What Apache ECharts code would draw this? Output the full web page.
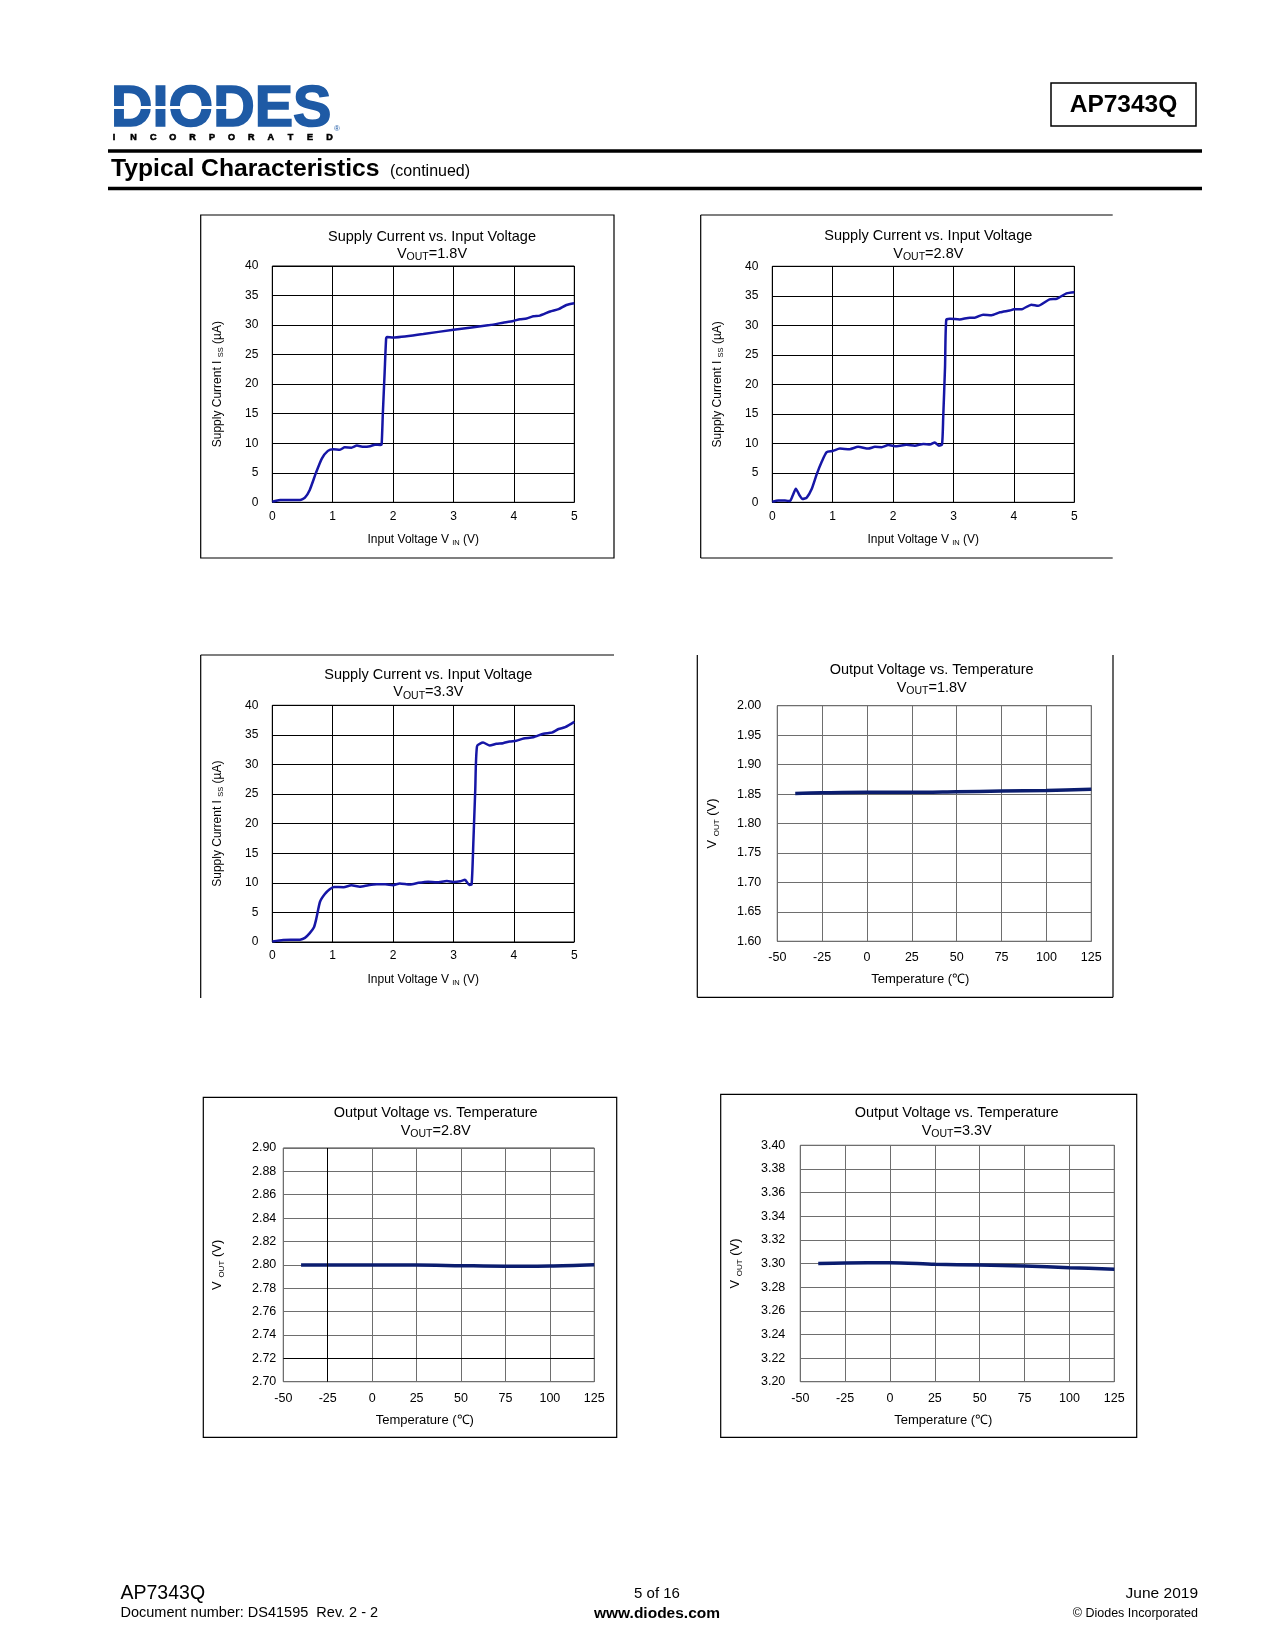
<!DOCTYPE html>
<html>
<head>
<meta charset="utf-8">
<script src="https://cdn.jsdelivr.net/npm/echarts@6/dist/echarts.min.js"></script>
<style>
html,body{margin:0;padding:0;background:#fff;}
#c{width:1275px;height:1650px;}
</style>
</head>
<body>
<div id="c"></div>
<script>
// ---------------- DATA ----------------
// Supply current vs input voltage, VOUT = 1.8V
const vin18 = [0,0.13,0.46,0.54,0.62,0.72,0.82,0.92,1.01,1.12,1.20,1.31,1.40,1.51,1.62,1.70,1.79,1.81,1.83,1.86,1.885,1.90,2.0,2.5,3.0,3.6,3.82,3.99,4.1,4.21,4.32,4.43,4.6,4.74,4.87,5.0];
const iss18 = [0.1,0.4,0.4,0.8,2.1,4.9,7.4,8.7,9.0,8.9,9.3,9.25,9.6,9.4,9.5,9.75,9.7,9.8,15,22,27.8,28.0,27.9,28.5,29.2,30.0,30.4,30.7,31.0,31.1,31.5,31.6,32.3,32.7,33.4,33.7];
// Supply current vs input voltage, VOUT = 2.8V
const vin28 = [0,0.1,0.21,0.29,0.34,0.39,0.45,0.50,0.57,0.65,0.73,0.82,0.90,1.0,1.12,1.28,1.42,1.59,1.70,1.81,1.92,2.06,2.22,2.36,2.50,2.61,2.69,2.76,2.81,2.83,2.86,2.88,2.94,3.1,3.27,3.35,3.49,3.63,3.77,3.93,4.0,4.12,4.29,4.4,4.59,4.71,4.87,5.0];
const iss28 = [0.1,0.3,0.3,0.2,1.2,2.3,1.2,0.55,0.8,2.2,4.6,6.9,8.5,8.7,9.1,9.0,9.4,9.1,9.4,9.35,9.7,9.5,9.75,9.6,9.9,9.8,10.15,9.6,9.8,14.5,23,30.9,31.1,31.0,31.3,31.3,31.8,31.7,32.2,32.5,32.7,32.7,33.5,33.3,34.4,34.5,35.4,35.6];
// Supply current vs input voltage, VOUT = 3.3V
const vin33 = [0,0.18,0.46,0.54,0.62,0.69,0.73,0.79,0.87,0.95,1.02,1.18,1.31,1.45,1.59,1.73,1.87,2.0,2.11,2.28,2.42,2.58,2.72,2.89,3.0,3.11,3.19,3.26,3.30,3.33,3.36,3.39,3.49,3.60,3.71,3.82,3.93,4.04,4.16,4.32,4.49,4.63,4.74,4.85,5.0];
const iss33 = [0.1,0.35,0.4,0.7,1.5,2.5,4.0,6.8,8.1,8.9,9.3,9.25,9.6,9.35,9.6,9.75,9.75,9.6,9.9,9.7,10.0,10.2,10.1,10.3,10.15,10.25,10.5,9.65,9.75,17.2,25.7,33.1,33.7,33.2,33.5,33.6,33.9,34.0,34.4,34.6,35.2,35.4,36.0,36.3,37.2];
// Output voltage vs temperature
const tempC  = [-40,-25,0,25,50,75,100,125];
const vout18 = [1.851,1.852,1.853,1.853,1.854,1.855,1.856,1.858];
const vout28 = [2.7998,2.7998,2.7999,2.7999,2.7993,2.7988,2.7990,2.8001];
const vout33 = [3.3001,3.3004,3.3007,3.2993,3.2987,3.2979,3.2965,3.2951];
// chart texts / tick settings
const curTitle = 'Supply Current vs. Input Voltage';
const tmpTitle = 'Output Voltage vs. Temperature';
const voutLabels = ['=1.8V','=2.8V','=3.3V','=1.8V','=2.8V','=3.3V'];
const vinTicks = {min:0, max:5, interval:1};
const issTicks = {min:0, max:40, interval:5};
const tempTicks = {min:-50, max:125, interval:25};
const vTicks18 = {min:1.60, max:2.00, interval:0.05};
const vTicks28 = {min:2.70, max:2.90, interval:0.02};
const vTicks33 = {min:3.20, max:3.40, interval:0.02};
const gridMarks28 = {x:-25, y:2.72};

// ---------------- STYLE / LAYOUT ----------------
const FONT = '"Liberation Sans", Arial, Helvetica, sans-serif';
const BLUE = '#1616a6';
const NAVY = '#0b1d6f';
const LOGO = '#1e5aa5';
const zip = (a, b) => a.map((x, i) => [x, b[i]]);

const grids = [
  {left:272.3, top:266,    width:302, height:236.3},
  {left:772.3, top:266.3,  width:302, height:236},
  {left:272.3, top:705.3,  width:302, height:236.7},
  {left:777.3, top:705.7,  width:314, height:235.6},
  {left:283.3, top:1148,   width:311, height:233.7},
  {left:800.3, top:1145.3, width:314, height:236.4}
].map((g, i) => Object.assign(g, {
  show:true, backgroundColor:'transparent', outerBoundsMode:'none', containLabel:false,
  borderColor: i < 3 ? '#000' : '#3a3a3a', borderWidth: 1
}));

function richName(main, sub, tail, fs, sfs, padding) {
  return {
    name: '{a|' + main + '}{s|' + sub + '}{a|' + tail + '}',
    nameTextStyle: {
      padding: padding || 0,
      rich: {
        a: {fontSize: fs, fontFamily: FONT, color: '#000', lineHeight: fs + 3},
        s: {fontSize: sfs, fontFamily: FONT, color: '#000', lineHeight: sfs, verticalAlign: 'bottom'}
      }
    }
  };
}

const xAxes = [], yAxes = [], series = [];
// current charts
[[vin18, iss18, 47], [vin28, iss28, 47], [vin33, iss33, 47]].forEach((d, i) => {
  xAxes.push(Object.assign({
    type:'value', gridIndex:i, min:vinTicks.min, max:vinTicks.max, interval:vinTicks.interval,
    axisLine:{show:false}, axisTick:{show:false},
    splitLine:{show:true, lineStyle:{color:'#000', width:1}},
    axisLabel:{color:'#000', fontSize:12, fontFamily:FONT, margin:8},
    nameLocation:'middle', nameGap:30
  }, richName('Input Voltage V ', 'IN', ' (V)', 12, 7.5)));
  yAxes.push(Object.assign({
    type:'value', gridIndex:i, min:issTicks.min, max:issTicks.max, interval:issTicks.interval,
    axisLine:{show:false}, axisTick:{show:false},
    splitLine:{show:true, lineStyle:{color:'#000', width:1}},
    axisLabel:{color:'#000', fontSize:12, fontFamily:FONT, margin:14},
    nameLocation:'middle', nameGap:d[2]
  }, richName('Supply Current I ', 'SS', ' (µA)', 12, 7.5)));
  series.push({
    type:'line', xAxisIndex:i, yAxisIndex:i, data:zip(d[0], d[1]),
    showSymbol:false, smooth:0.2, z:3,
    lineStyle:{color:BLUE, width:2.5}, itemStyle:{color:BLUE}
  });
});
// temperature charts
[[vout18, vTicks18, 16, 57], [vout28, vTicks28, 7, 58], [vout33, vTicks33, 15, 57]].forEach((d, k) => {
  const i = k + 3;
  xAxes.push({
    type:'value', gridIndex:i, min:tempTicks.min, max:tempTicks.max, interval:tempTicks.interval,
    axisLine:{show:false}, axisTick:{show:false},
    splitLine:{show:true, lineStyle:{color:'#6e6e6e', width:1}},
    axisLabel:{color:'#000', fontSize:12.5, fontFamily:FONT, margin:10},
    name:'Temperature (℃)', nameLocation:'middle', nameGap:32,
    nameTextStyle:{color:'#000', fontSize:13, fontFamily:FONT, padding:[0,28,0,0]}
  });
  yAxes.push(Object.assign({
    type:'value', gridIndex:i, min:d[1].min, max:d[1].max, interval:d[1].interval,
    axisLine:{show:false}, axisTick:{show:false},
    splitLine:{show:true, lineStyle:{color:'#6e6e6e', width:1}},
    axisLabel:{color:'#000', fontSize:12.5, fontFamily:FONT, margin:d[2], formatter: v => v.toFixed(2)},
    nameLocation:'middle', nameGap:d[3]
  }, richName('V ', 'OUT', ' (V)', 13, 8)));
  series.push({
    type:'line', xAxisIndex:i, yAxisIndex:i, data:zip(tempC, d[0]),
    showSymbol:false, smooth:0.3, z:3,
    lineStyle:{color:NAVY, width:3.5}, itemStyle:{color:NAVY}
  });
});
// black reference grid lines in the 2.8V temperature chart
series.push({
  type:'line', xAxisIndex:4, yAxisIndex:4, data:[], z:1, silent:true,
  markLine:{
    silent:true, symbol:['none','none'], label:{show:false}, animation:false,
    lineStyle:{color:'#000', type:'solid', width:1},
    data:[{xAxis:gridMarks28.x}, {yAxis:gridMarks28.y}]
  }
});

// ---------------- GRAPHIC (page furniture) ----------------
const G = [];
function line(x1, y1, x2, y2, w, c) {
  G.push({type:'line', silent:true, shape:{x1, y1, x2, y2}, style:{stroke:c || '#000', lineWidth:w || 1.2}});
}
function rect(x, y, w, h, lw) {
  G.push({type:'rect', silent:true, shape:{x, y, width:w, height:h}, style:{fill:'none', stroke:'#000', lineWidth:lw || 1.2}});
}
function text(x, y, t, o) {
  o = o || {};
  const st = {
    text:t, fill:o.color || '#000', fontSize:o.size || 14, fontFamily:o.family || FONT,
    fontWeight:o.weight || 'normal',
    align:o.align || 'left', textAlign:o.align || 'left',
    verticalAlign:'middle', textVerticalAlign:'middle'
  };
  if (o.stroke) { st.stroke = o.stroke; st.lineWidth = o.strokeWidth || 1; }
  if (o.rich) st.rich = o.rich;
  G.push({type:'text', silent:true, x, y, style:st});
}

// header
text(111, 110, 'DIODES', {size:57.5, weight:'bold', color:LOGO, stroke:LOGO, strokeWidth:1.6});
G.push({type:'rect', silent:true, shape:{x:112, y:106, width:118, height:3}, style:{fill:'#fff'}});
G.push({type:'polygon', silent:true, shape:{points:[[228,101.5],[240,107.5],[228,113.5]]}, style:{fill:'#fff'}});
'INCORPORATED'.split('').forEach((ch, i) => text(114 + i * 19.6, 137.5, ch, {size:9, weight:'bold', color:'#000', align:'center', stroke:'#000', strokeWidth:0.6}));
text(337, 129, '®', {size:8, color:LOGO, align:'center'});
rect(1051, 83, 145, 43, 1.5);
text(1123.5, 105, 'AP7343Q', {size:24.5, weight:'bold', align:'center'});
line(108, 151, 1202, 151, 3.3);
line(108, 188.5, 1202, 188.5, 3.3);
text(111, 169, 'Typical Characteristics', {size:24.7, weight:'bold'});
text(390, 172, '(continued)', {size:16});

// chart frames
rect(200.7, 215, 413.3, 343);                                 // chart 1
line(700.7, 215, 1112.7, 215); line(700.7, 215, 700.7, 558); line(700.7, 558, 1112.7, 558); // chart 2
line(200.7, 655, 614, 655); line(200.7, 655, 200.7, 998);     // chart 3
line(697.3, 655, 697.3, 997.3); line(697.3, 997.3, 1113, 997.3); line(1113, 655, 1113, 997.3); // chart 4
rect(203.3, 1097.3, 413.4, 340);                              // chart 5
rect(720.7, 1094.3, 416, 343);                                // chart 6

// chart titles
const subRich = {
  v:{fontSize:14.5, fontFamily:FONT, fill:'#000', lineHeight:18},
  s:{fontSize:10.5, fontFamily:FONT, fill:'#000', lineHeight:11, verticalAlign:'bottom'}
};
const titlePos = [
  [432, 236.7, 254], [928.3, 235.7, 253.5], [428.3, 675, 692.3],
  [931.7, 670, 687.7], [435.7, 1113.3, 1131], [956.7, 1113.3, 1131]
];
titlePos.forEach((p, i) => {
  text(p[0], p[1], i < 3 ? curTitle : tmpTitle, {size:14.5, align:'center'});
  text(p[0], p[2], '{v|V}{s|OUT}{v|' + voutLabels[i] + '}', {size:14.5, align:'center', rich:subRich});
});

// footer
text(120.5, 1594, 'AP7343Q', {size:19.5});
text(120.5, 1613, 'Document number: DS41595  Rev. 2 - 2', {size:14.5});
text(657, 1594, '5 of 16', {size:15, align:'center'});
text(657, 1614, 'www.diodes.com', {size:15.5, weight:'bold', align:'center'});
text(1198, 1594, 'June 2019', {size:15.5, align:'right'});
text(1198, 1614, '© Diodes Incorporated', {size:12.5, align:'right'});

// ---------------- CHART ----------------
const chart = echarts.init(document.getElementById('c'), null, {renderer:'canvas', width:1275, height:1650});
chart.setOption({
  backgroundColor:'#fff',
  animation:false,
  textStyle:{fontFamily:FONT},
  grid:grids,
  xAxis:xAxes,
  yAxis:yAxes,
  series:series,
  graphic:{elements:G}
});
</script>
</body>
</html>
